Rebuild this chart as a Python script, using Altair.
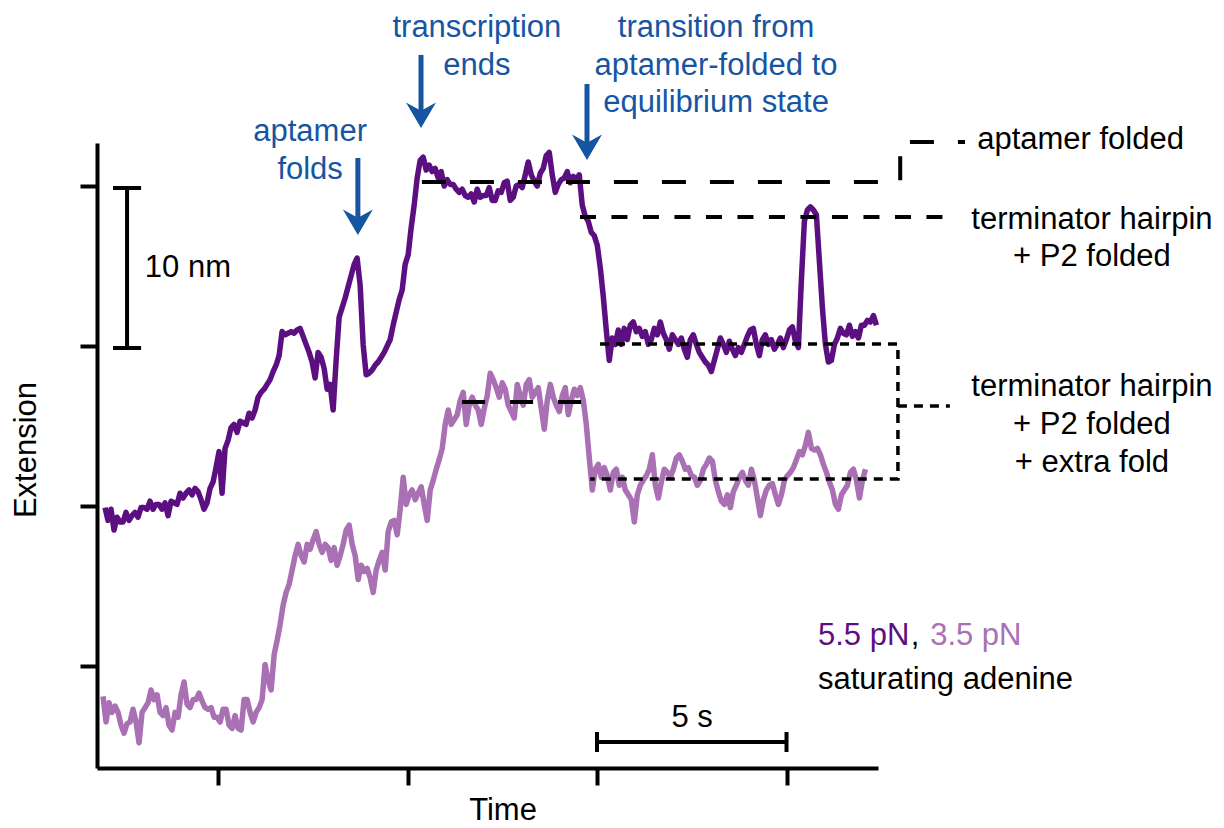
import altair as alt
import pandas as pd

# ---------------- data ----------------
SAMPLE_DT = 0.0792          # s between samples
DARK_START = 2.018          # s, first sample of the 5.5 pN trace
LIGHT_START = 1.966         # s, first sample of the 3.5 pN trace

DARK_NM = [
    19.9, 19.1, 19.8, 18.5, 19.3, 19.0, 19.0, 19.6, 19.1, 19.4, 19.6, 19.3, 19.9, 19.9, 19.8, 20.3,
    19.8, 20.1, 20.1, 19.8, 20.2, 19.4, 20.3, 20.2, 20.1, 20.8, 20.5, 20.8, 21.0, 20.7, 21.1, 20.9,
    20.4, 19.8, 20.2, 21.1, 21.5, 22.4, 23.4, 20.8, 23.6, 24.1, 24.9, 25.1, 24.6, 25.3, 25.2, 25.1,
    25.8, 25.5, 26.0, 26.8, 27.1, 27.3, 27.6, 27.9, 28.4, 28.8, 29.4, 30.9, 30.7, 30.8, 30.9, 30.8,
    31.0, 31.1, 30.6, 30.1, 29.6, 29.0, 28.0, 29.6, 29.3, 28.6, 27.3, 27.6, 26.0, 29.1, 31.8, 32.4,
    33.0, 33.7, 34.4, 35.1, 35.5, 33.8, 30.1, 28.2, 28.3, 28.5, 28.8, 29.0, 29.3, 29.6, 30.0, 30.4,
    31.3, 32.1, 32.9, 33.5, 35.1, 35.7, 37.4, 38.8, 40.5, 41.6, 41.8, 41.0, 41.3, 40.9, 41.1, 40.5,
    40.9, 40.0, 40.4, 40.1, 40.1, 39.8, 39.6, 39.8, 39.4, 39.3, 39.5, 39.0, 39.8, 39.3, 39.4, 39.4,
    39.9, 39.1, 39.1, 39.7, 39.6, 40.2, 40.3, 39.1, 39.3, 40.0, 40.1, 39.9, 40.7, 41.5, 40.7, 40.3,
    40.0, 40.8, 41.1, 41.9, 42.1, 40.7, 39.6, 40.1, 40.4, 40.5, 40.9, 40.2, 40.6, 40.4, 40.7, 38.8,
    38.1, 37.8, 37.1, 36.9, 36.3, 34.9, 33.1, 31.0, 29.1, 30.5, 30.1, 31.0, 30.1, 31.1, 30.4, 31.3,
    31.5, 30.9, 31.1, 30.6, 30.9, 30.1, 30.4, 31.1, 30.7, 31.5, 30.8, 30.4, 29.8, 30.7, 30.4, 30.1,
    30.5, 29.8, 29.3, 30.4, 30.7, 30.1, 29.6, 29.3, 29.0, 28.8, 28.4, 29.1, 29.8, 30.5, 30.1, 29.6,
    30.3, 29.8, 29.4, 29.9, 29.6, 30.1, 30.6, 31.0, 31.1, 30.1, 29.4, 30.4, 30.7, 30.1, 30.4, 29.8,
    30.1, 30.5, 29.9, 30.4, 31.0, 31.2, 30.3, 29.9, 34.1, 37.8, 38.5, 38.7, 38.5, 38.2, 35.3, 32.4,
    30.1, 29.0, 29.1, 30.1, 30.5, 31.1, 30.8, 30.7, 31.3, 30.6, 30.9, 30.5, 31.3, 31.3, 31.6, 31.5,
    31.9, 31.3,
]

LIGHT_NM = [
    8.1, 6.5, 7.7, 7.1, 7.5, 7.1, 6.3, 5.8, 6.4, 6.5, 7.3, 6.5, 5.2, 7.1, 7.4, 7.7,
    8.5, 7.9, 8.2, 7.1, 6.9, 7.4, 6.3, 6.0, 7.1, 6.8, 8.2, 9.0, 7.6, 7.4, 7.9, 7.9,
    8.3, 7.8, 7.4, 7.3, 7.4, 6.8, 6.8, 6.5, 7.3, 7.3, 6.3, 6.1, 6.9, 6.1, 6.0, 7.9,
    7.9, 7.1, 6.5, 7.1, 7.4, 7.9, 10.1, 9.1, 8.5, 10.7, 11.6, 12.6, 13.8, 14.6, 15.1, 16.0,
    16.9, 17.6, 16.9, 16.5, 17.6, 17.3, 17.9, 18.4, 17.6, 17.1, 17.6, 17.4, 16.6, 17.4, 16.3, 16.9,
    17.6, 18.5, 18.8, 17.6, 16.9, 15.4, 16.3, 15.9, 16.1, 15.5, 14.6, 16.0, 16.6, 17.1, 16.0, 18.4,
    19.0, 19.1, 18.2, 19.8, 21.8, 20.1, 20.7, 21.0, 20.4, 20.8, 21.2, 20.1, 19.1, 21.0, 21.6, 22.3,
    22.9, 23.6, 25.1, 26.0, 25.1, 25.4, 25.7, 26.6, 27.1, 25.1, 26.3, 26.8, 26.3, 26.0, 25.1, 26.1,
    26.9, 28.3, 27.9, 27.4, 26.8, 27.7, 27.3, 26.3, 25.9, 25.5, 27.6, 26.9, 26.3, 27.6, 27.9, 26.8,
    27.1, 27.4, 26.1, 24.8, 26.6, 27.6, 26.8, 26.3, 25.9, 26.9, 27.4, 25.7, 26.6, 27.3, 26.9, 27.4,
    26.6, 25.1, 23.0, 21.0, 22.3, 22.6, 21.8, 22.4, 21.9, 21.0, 22.1, 22.3, 21.3, 21.8, 21.0, 20.7,
    20.4, 19.0, 20.7, 21.3, 21.6, 21.9, 22.3, 23.2, 21.3, 20.5, 21.5, 22.3, 22.1, 21.8, 22.3, 23.0,
    23.2, 22.8, 22.3, 22.4, 21.9, 21.8, 21.3, 21.6, 22.3, 22.6, 23.0, 22.8, 21.6, 20.9, 20.3, 20.1,
    20.7, 19.9, 20.9, 21.3, 21.8, 22.1, 21.6, 21.3, 22.3, 21.6, 20.5, 19.4, 20.4, 21.0, 21.3, 21.4,
    20.7, 20.1, 20.7, 21.6, 21.9, 22.1, 22.4, 22.9, 23.4, 23.2, 23.8, 24.6, 23.6, 23.5, 23.6, 23.2,
    22.6, 22.1, 21.5, 21.0, 20.1, 19.8, 20.7, 21.0, 21.3, 22.1, 22.3, 21.6, 20.5, 21.6, 22.3,
]

# state levels (s, nm)
APTAMER_LEVEL_T = [10.38, 23.0, 23.0, 24.71]
APTAMER_LEVEL_NM = [40.25, 40.25, 42.75, 42.75]
TERM_LEVEL_T = [14.55, 24.24]
TERM_LEVEL_NM = [38.06, 38.06]
EQ_BRACKET_T = [15.08, 22.94, 22.94, 14.82]
EQ_BRACKET_NM = [30.125, 30.125, 21.69, 21.69]
EQ_POINTER_T = [22.94, 24.31]
EQ_POINTER_NM = [26.25, 26.25]
LIGHT_APT_T = [11.44, 14.61]
LIGHT_APT_NM = [26.5, 26.5]

# scale bars: 10 nm and 5 s
BAR_T = [2.60, 2.23, 2.23, 15.0, 15.0, 20.0]
BAR_T2 = [2.60, 2.97, 2.97, 20.0, 15.0, 20.0]
BAR_NM = [29.875, 39.875, 29.875, 5.25, 4.625, 4.625]
BAR_NM2 = [39.875, 39.875, 29.875, 5.25, 5.875, 5.875]

# event arrows
ARROW_T = [8.69, 10.356, 14.736]
ARROW_TOP = [41.75, 48.19, 46.375]
ARROW_HEAD = [37.875, 44.56, 42.56]

BLUE_TEXT = ["aptamer", "folds", "transcription", "ends",
             "transition from", "aptamer-folded to", "equilibrium state"]
BLUE_T = [7.43, 7.43, 11.83, 11.83, 18.14, 18.14, 18.14]
BLUE_NM = [43.375, 41.0, 49.875, 47.5, 49.875, 47.5, 45.19]

STATE_TEXT = ["terminator hairpin", "+ P2 folded", "terminator hairpin", "+ P2 folded", "+ extra fold"]
STATE_T = [28.06, 28.06, 28.06, 28.06, 28.06]
STATE_NM = [37.875, 35.56, 27.44, 25.06, 22.69]

LEFT_TEXT = ["aptamer folded", "10 nm", "5.5 pN", ",", "3.5 pN", "saturating adenine"]
LEFT_T = [25.03, 3.07, 20.83, 23.28, 23.79, 20.83]
LEFT_NM = [42.875, 34.875, 11.875, 11.875, 11.875, 9.125]

X_DOMAIN = [1.807, 22.414]
Y_DOMAIN = [3.625, 42.6875]
X_TICKS = [5, 10, 15, 20]
Y_TICKS = [10, 20, 30, 40]

# ---------------- styling ----------------
DARK = "#5c0f80"
LIGHT = "#aa70b4"
BLUE = "#1655a2"
FONT = "Liberation Sans"
FS = 31

xs = alt.Scale(domain=X_DOMAIN, nice=False, zero=False)
ys = alt.Scale(domain=Y_DOMAIN, nice=False, zero=False)
xaxis = alt.Axis(values=X_TICKS, tickSize=17, tickWidth=4, domainWidth=4, labels=False,
                 grid=False, title=None, domainColor="black", tickColor="black")
yaxis = alt.Axis(values=Y_TICKS, tickSize=17, tickWidth=4, domainWidth=4, labels=False,
                 grid=False, title=None, domainColor="black", tickColor="black")


def X(f):
    return alt.X(f, type="quantitative", scale=xs, axis=xaxis)


def Y(f):
    return alt.Y(f, type="quantitative", scale=ys, axis=yaxis)


# traces
rows = []
for i, v in enumerate(LIGHT_NM):
    rows.append({"series": "3.5 pN", "i": i, "t": LIGHT_START + i * SAMPLE_DT, "nm": v})
for i, v in enumerate(DARK_NM):
    rows.append({"series": "5.5 pN", "i": i, "t": DARK_START + i * SAMPLE_DT, "nm": v})
traces_df = pd.DataFrame(rows)

traces = alt.Chart(traces_df).mark_line(strokeWidth=5.5, strokeJoin="round").encode(
    x=X("t"), y=Y("nm"),
    color=alt.Color("series:N", scale=alt.Scale(domain=["3.5 pN", "5.5 pN"], range=[LIGHT, DARK]),
                    legend=None),
    order=alt.Order("i:Q"),
)


def path_layer(ts, ns, dash, width):
    df = pd.DataFrame({"t": ts, "nm": ns, "k": list(range(len(ts)))})
    return alt.Chart(df).mark_line(color="black", strokeWidth=width, strokeDash=dash).encode(
        x=X("t"), y=Y("nm"), order=alt.Order("k:Q"))


lines = [
    path_layer(APTAMER_LEVEL_T, APTAMER_LEVEL_NM, [24, 24], 4),
    path_layer(TERM_LEVEL_T, TERM_LEVEL_NM, [16, 15.5], 4),
    path_layer(EQ_BRACKET_T, EQ_BRACKET_NM, [9, 7], 3.5),
    path_layer(EQ_POINTER_T, EQ_POINTER_NM, [9, 7], 3.5),
    path_layer(LIGHT_APT_T, LIGHT_APT_NM, [23, 25], 4),
]

bars_df = pd.DataFrame({"t": BAR_T, "t2": BAR_T2, "nm": BAR_NM, "nm2": BAR_NM2})
bars = alt.Chart(bars_df).mark_rule(color="black", strokeWidth=4).encode(
    x=X("t"), x2="t2", y=Y("nm"), y2="nm2")

arrows_df = pd.DataFrame({"t": ARROW_T, "top": ARROW_TOP, "head": ARROW_HEAD})
shafts = alt.Chart(arrows_df).mark_rule(color=BLUE, strokeWidth=5).encode(
    x=X("t"), y=Y("top"), y2="head")
heads = alt.Chart(arrows_df).mark_point(
    shape="M0,1L-1,-0.7L0,-0.15L1,-0.7Z", size=900, filled=True, color=BLUE, opacity=1,
    strokeWidth=0).encode(x=X("t"), y=Y("head"))

blue_df = pd.DataFrame({"label": BLUE_TEXT, "t": BLUE_T, "nm": BLUE_NM})
blue_txt = alt.Chart(blue_df).mark_text(font=FONT, fontSize=FS, color=BLUE, align="center",
                                        baseline="middle").encode(
    x=X("t"), y=Y("nm"), text="label:N")

state_df = pd.DataFrame({"label": STATE_TEXT, "t": STATE_T, "nm": STATE_NM})
state_txt = alt.Chart(state_df).mark_text(font=FONT, fontSize=FS, color="black", align="center",
                                          baseline="middle").encode(
    x=X("t"), y=Y("nm"), text="label:N")

left_colors = ["black", "black", DARK, "black", LIGHT, "black"]
left_df = pd.DataFrame({"label": LEFT_TEXT, "t": LEFT_T, "nm": LEFT_NM, "c": left_colors})
left_txt = alt.Chart(left_df).mark_text(font=FONT, fontSize=FS, align="left",
                                        baseline="middle").encode(
    x=X("t"), y=Y("nm"), text="label:N", color=alt.Color("c:N", scale=None))

misc_df = pd.DataFrame({"label": ["5 s", "Time"], "t": [17.51, 12.52], "nm": [6.75, 0.95]})
misc_txt = alt.Chart(misc_df).mark_text(font=FONT, fontSize=FS, color="black", align="center",
                                        baseline="middle").encode(
    x=X("t"), y=Y("nm"), text="label:N")

ext_df = pd.DataFrame({"label": ["Extension"], "t": [-0.04], "nm": [23.5]})
ext_txt = alt.Chart(ext_df).mark_text(font=FONT, fontSize=FS, color="black", align="center",
                                      baseline="middle", angle=270).encode(
    x=X("t"), y=Y("nm"), text="label:N")

chart = alt.layer(
    traces, *lines, bars, shafts, heads, blue_txt, state_txt, left_txt, misc_txt, ext_txt
).properties(
    width=781, height=625,
    padding={"left": 97, "top": 143, "right": 346, "bottom": 60},
    autosize=alt.AutoSizeParams(type="none"),
    background="white",
).configure_view(stroke=None)

chart.save("out.html", embed_options={"renderer": "svg", "actions": False})
